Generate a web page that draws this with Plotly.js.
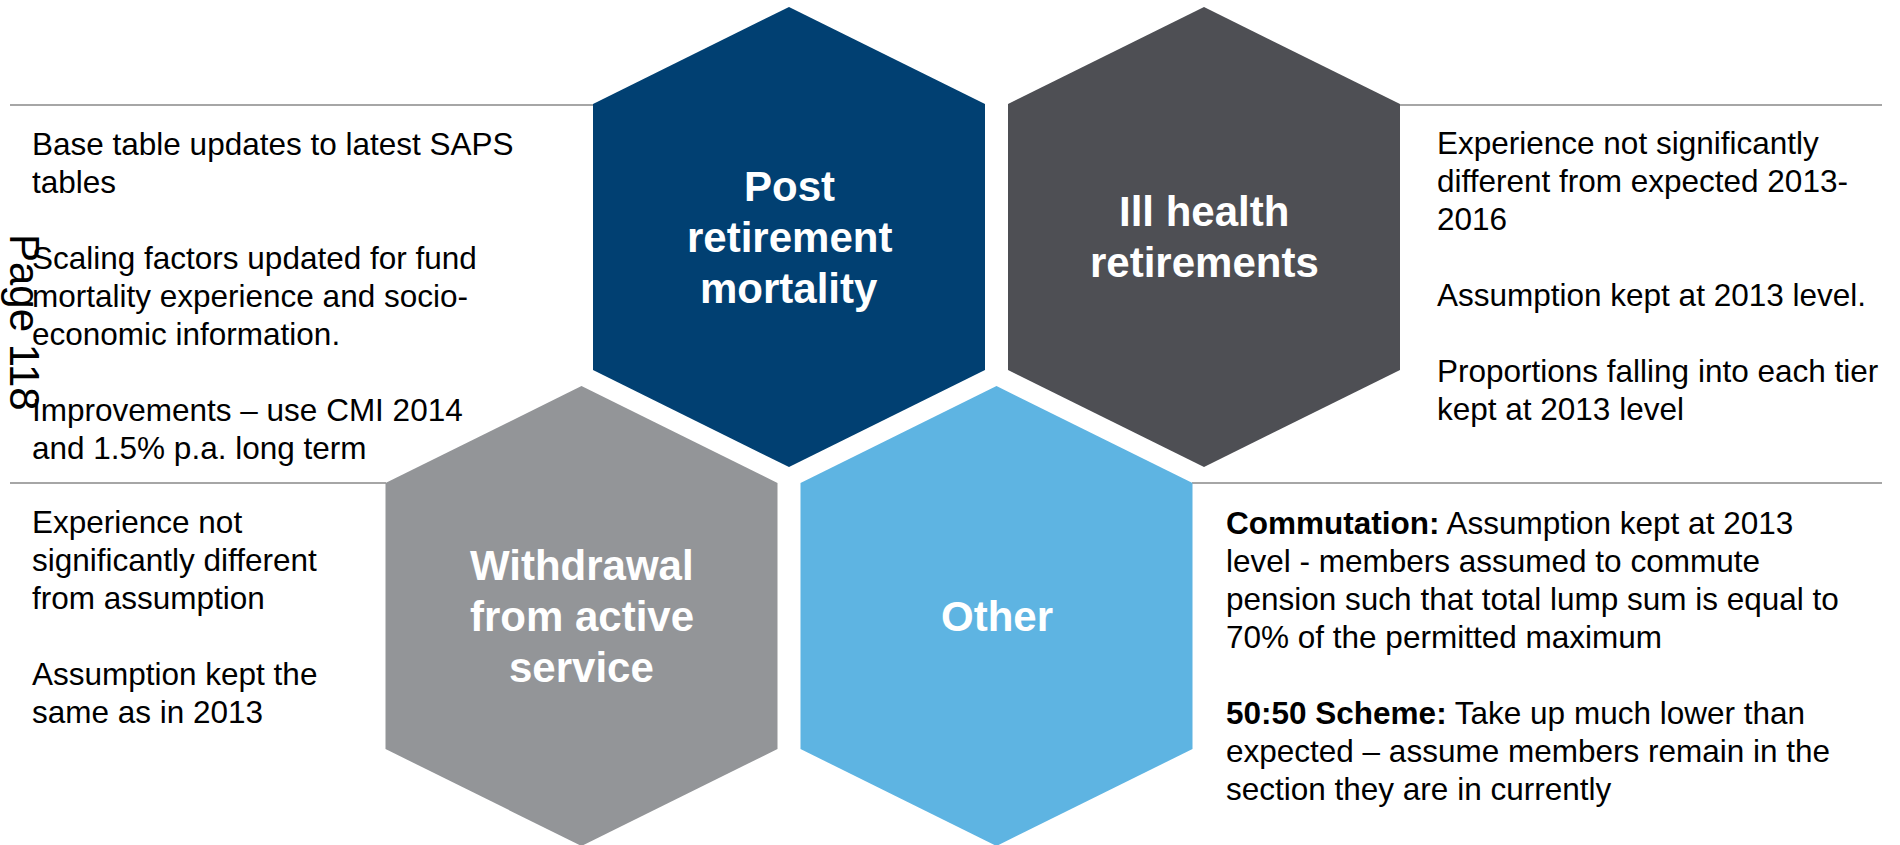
<!DOCTYPE html>
<html>
<head>
<meta charset="utf-8">
<script src="https://cdn.plot.ly/plotly-3.0.1.min.js"></script>
<style>
  html, body { margin: 0; padding: 0; background: #ffffff; }
  #chart { width: 1900px; height: 845px; }
</style>
</head>
<body>
<div id="chart"></div>
<script>
// ---- Data ----
const categories = [
  "Post<br>retirement<br>mortality",
  "Ill health<br>retirements",
  "Withdrawal<br>from active<br>service",
  "Other"
];
const categoryColors = ["#014072", "#4E4F54", "#939598", "#5EB4E2"];

const notesPostRetirement = [
  "Base table updates to latest SAPS",
  "tables",
  "",
  "Scaling factors updated for fund",
  "mortality experience and socio-",
  "economic information.",
  "",
  "Improvements \u2013 use CMI 2014",
  "and 1.5% p.a. long term"
];
const notesIllHealth = [
  "Experience not significantly",
  "different from expected 2013-",
  "2016",
  "",
  "Assumption kept at 2013 level.",
  "",
  "Proportions falling into each tier",
  "kept at 2013 level"
];
const notesWithdrawal = [
  "Experience not",
  "significantly different",
  "from assumption",
  "",
  "Assumption kept the",
  "same as in 2013"
];
const notesOther = [
  "<b>Commutation:</b> Assumption kept at 2013",
  "level - members assumed to commute",
  "pension such that total lump sum is equal to",
  "70% of the permitted maximum",
  "",
  "<b>50:50 Scheme:</b> Take up much lower than",
  "expected \u2013 assume members remain in the",
  "section they are in currently"
];
const pageLabel = "Page 118";

// ---- Layout geometry (positions, not data) ----
const geo = {
  centres: [[789, 237], [1204, 237], [581.5, 616], [996.5, 616]],
  halfW: 196, tip: 230, shoulder: 133,
  labelGap: 51, labelSize: 42,
  noteSize: 31.5, noteGap: 38.1,
  // left x and first baseline y of each note block
  notePos: [[30, 154], [1435, 153], [30, 532], [1224, 533]]
};

const FONT = "Liberation Sans, Arial, sans-serif";

function hexPath(cx, cy) {
  const w = geo.halfW, t = geo.tip, s = geo.shoulder;
  return {
    x: [cx, cx + w, cx + w, cx, cx - w, cx - w, cx],
    y: [cy - t, cy - s, cy + s, cy + t, cy + s, cy - s, cy - t]
  };
}

const traces = categories.map((name, i) => {
  const p = hexPath(geo.centres[i][0], geo.centres[i][1]);
  return {
    type: "scatter", mode: "lines", x: p.x, y: p.y,
    fill: "toself", fillcolor: categoryColors[i],
    line: { width: 0, color: categoryColors[i] },
    hoverinfo: "skip", showlegend: false, name: name.replace(/<br>/g, " ")
  };
});

const annotations = [];
categories.forEach((name, i) => {
  const lines = name.split("<br>");
  const [cx, cy] = geo.centres[i];
  lines.forEach((ln, j) => {
    const offset = (j - (lines.length - 1) / 2) * geo.labelGap;
    annotations.push({
      x: cx, y: cy + offset, xref: "x", yref: "y",
      text: "<b>" + ln + "</b>", showarrow: false,
      xanchor: "center", yanchor: "middle",
      font: { family: FONT, size: geo.labelSize, color: "#ffffff" }
    });
  });
});

[notesPostRetirement, notesIllHealth, notesWithdrawal, notesOther].forEach((notes, i) => {
  const [x0, base0] = geo.notePos[i];
  notes.forEach((ln, k) => {
    if (!ln) return;
    const baseline = base0 + k * geo.noteGap;
    annotations.push({
      x: x0, y: baseline - 0.33 * geo.noteSize, xref: "x", yref: "y",
      text: ln, showarrow: false, align: "left",
      xanchor: "left", yanchor: "middle",
      font: { family: FONT, size: geo.noteSize, color: "#000000" }
    });
  });
});

annotations.push({
  x: 25, y: 322, xref: "x", yref: "y", text: pageLabel, showarrow: false,
  textangle: 90, xanchor: "center", yanchor: "middle",
  font: { family: FONT, size: 42, color: "#000000" }
});

const lineStyle = { color: "#A6A6A6", width: 2 };
const shapes = [
  { type: "line", xref: "x", yref: "y", x0: 10, x1: 593, y0: 105, y1: 105, line: lineStyle, layer: "below" },
  { type: "line", xref: "x", yref: "y", x0: 1400, x1: 1882, y0: 105, y1: 105, line: lineStyle, layer: "below" },
  { type: "line", xref: "x", yref: "y", x0: 10, x1: 386, y0: 483, y1: 483, line: lineStyle, layer: "below" },
  { type: "line", xref: "x", yref: "y", x0: 1192, x1: 1882, y0: 483, y1: 483, line: lineStyle, layer: "below" }
];

const layout = {
  width: 1900, height: 845,
  margin: { l: 0, r: 0, t: 0, b: 0 },
  paper_bgcolor: "#ffffff", plot_bgcolor: "#ffffff",
  xaxis: { range: [0, 1900], visible: false, fixedrange: true },
  yaxis: { range: [845, 0], visible: false, fixedrange: true },
  showlegend: false,
  annotations: annotations,
  shapes: shapes
};

Plotly.newPlot("chart", traces, layout, { displayModeBar: false, staticPlot: true });
</script>
</body>
</html>
